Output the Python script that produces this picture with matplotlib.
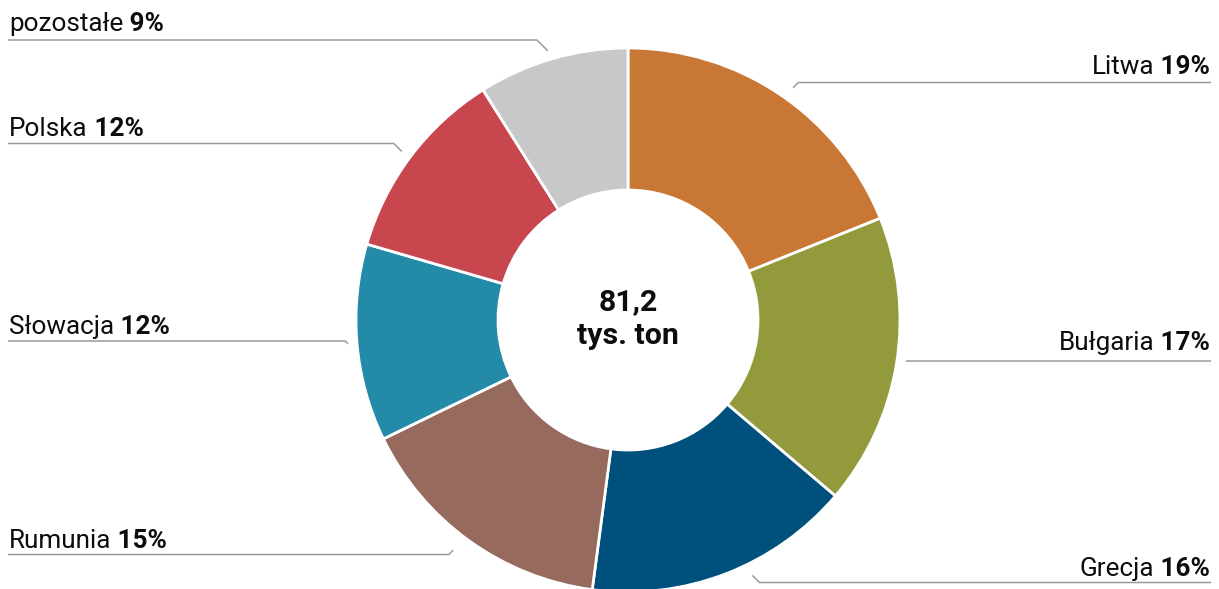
import matplotlib
matplotlib.use('Agg')
import matplotlib.pyplot as plt
import numpy as np

plt.rcParams['font.family'] = ['Roboto', 'DejaVu Sans']

# ---- data ----
categories = ['Litwa', 'Bułgaria', 'Grecja', 'Rumunia', 'Słowacja', 'Polska', 'pozostałe']
shares = [18.9, 17.3, 15.9, 15.7, 11.7, 11.55, 8.95]
pct_labels = ['19%', '17%', '16%', '15%', '12%', '12%', '9%']
colors = ['#C97734', '#939A3B', '#00507E', '#976A5E', '#238AA7', '#C8474F', '#C7C8CA']
center_lines = ['81,2', 'tys. ton']

# ---- layout (pixel units) ----
W, H = 1219, 589
label_side = ['R', 'R', 'R', 'L', 'L', 'L', 'L']
label_base = [74, 350, 576, 548, 334, 136, 31]      # text baselines (from top)
label_line = [82.5, 361, 582.5, 554.5, 341, 143.5, 40]  # leader line y (from top)
anchor_dtheta = [-1.4, 0.8, 4.9, -1.4, 0, 0.3, 0.5]  # small angle tweaks of leader anchors
anchor_r = [285, 281, 284, 289, 281, 282, 281]

fig = plt.figure(figsize=(W / 100, H / 100), dpi=100)
ax = fig.add_axes([0, 0, 1, 1])
cx, cy = 628, H - 320
R = 272
wedges, _ = ax.pie(shares, colors=colors, startangle=90, counterclock=False,
                   center=(cx, cy), radius=R,
                   wedgeprops=dict(width=142, edgecolor='white', linewidth=2))
ax.set_xlim(0, W)
ax.set_ylim(0, H)
ax.set_aspect('equal')
ax.axis('off')

fs = 18.8
txt_color = '#0d0d0d'
line_color = '#9a9a9a'
for w, name, pct, side, base, ly, dth, ar in zip(wedges, categories, pct_labels,
                                                 label_side, label_base, label_line,
                                                 anchor_dtheta, anchor_r):
    mid = np.deg2rad((w.theta1 + w.theta2) / 2 + dth)
    px = cx + ar * np.cos(mid)
    py = cy + ar * np.sin(mid)
    Y = H - ly
    sgn = 1 if side == 'R' else -1
    ex = px + sgn * abs(py - Y)
    xend = 1211 if side == 'R' else 8
    ax.plot([px, ex, xend], [py, Y, Y], color=line_color, lw=1.1,
            solid_capstyle='butt', solid_joinstyle='miter')
    if side == 'R':
        t = ax.text(1210, H - base, ' ' + pct, ha='right', va='baseline',
                    fontsize=fs, fontweight='bold', color=txt_color)
        ax.annotate(name, xy=(0, 0), xycoords=t, ha='right', va='bottom',
                    fontsize=fs, color=txt_color)
    else:
        t = ax.text(9, H - base, name, ha='left', va='baseline',
                    fontsize=fs, color=txt_color)
        ax.annotate(' ' + pct, xy=(1, 0), xycoords=t, ha='left', va='bottom',
                    fontsize=fs, fontweight='bold', color=txt_color)

ax.text(cx, H - 310, center_lines[0], ha='center', va='baseline',
        fontsize=21.8, fontweight='bold', color=txt_color)
ax.text(cx, H - 344, center_lines[1], ha='center', va='baseline',
        fontsize=21.8, fontweight='bold', color=txt_color)

fig.savefig('out.png', dpi=100)
